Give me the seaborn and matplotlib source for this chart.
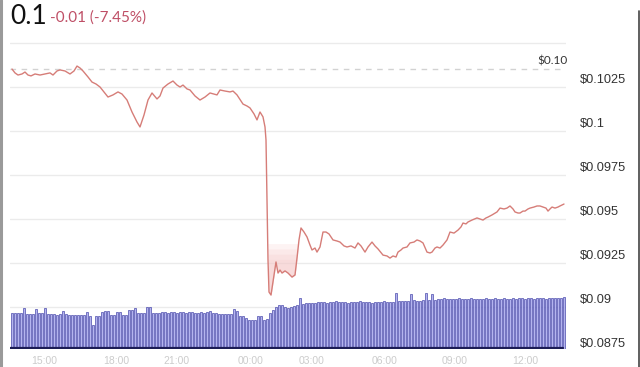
import numpy as np
import pandas as pd
import seaborn as sns
import matplotlib
matplotlib.use("Agg")
import matplotlib.pyplot as plt
from matplotlib import transforms
from matplotlib.lines import Line2D

# ---------------- data ----------------
price_t = [0,3,6,10,13,16,19,23,28,33,38,41,45,48,53,58,62,65,68,71,76,80,84,88,92,96,101,106,110,115,
           120,125,128,132,136,140,145,148,151,156,161,165,168,171,175,178,183,188,193,198,202,205,208,213,218,
           221,225,231,235,238,242,245,248,251,253,254,255,256,257,259,261,264,266,268,270,273,276,280,283,285,
           287,289,292,295,298,300,303,305,308,311,314,317,321,325,328,332,335,339,343,346,349,353,356,360,363,
           366,371,375,378,381,384,386,389,391,395,398,402,405,408,411,415,418,420,423,425,428,431,435,438,442,
           446,449,451,454,456,460,465,468,471,474,476,480,485,488,492,495,498,501,503,506,508,511,513,516,518,
           522,525,528,531,534,536,538,540,543,546,548,552]
price = [0.10352,0.10330,0.10318,0.10324,0.10335,0.10318,0.10313,0.10324,0.10318,0.10324,0.10330,0.10318,
         0.10341,0.10347,0.10341,0.10324,0.10341,0.10369,0.10358,0.10341,0.10307,0.10278,0.10267,0.10250,
         0.10222,0.10193,0.10205,0.10222,0.10210,0.10176,0.10108,0.10051,0.10023,0.10091,0.10176,0.10216,
         0.10182,0.10199,0.10244,0.10267,0.10284,0.10261,0.10250,0.10261,0.10239,0.10233,0.10199,0.10176,
         0.10193,0.10216,0.10210,0.10205,0.10233,0.10227,0.10222,0.10227,0.10205,0.10153,0.10142,0.10131,
         0.10097,0.10063,0.10108,0.10080,0.10023,0.09949,0.09608,0.09267,0.09085,0.09068,0.09142,0.09256,
         0.09193,0.09210,0.09193,0.09205,0.09193,0.09170,0.09182,0.09278,0.09381,0.09449,0.09426,0.09398,
         0.09352,0.09324,0.09335,0.09312,0.09341,0.09426,0.09426,0.09415,0.09381,0.09375,0.09369,0.09347,
         0.09341,0.09347,0.09335,0.09364,0.09347,0.09312,0.09341,0.09369,0.09347,0.09330,0.09295,0.09290,
         0.09278,0.09290,0.09284,0.09312,0.09324,0.09335,0.09341,0.09364,0.09369,0.09381,0.09375,0.09364,
         0.09312,0.09307,0.09312,0.09335,0.09341,0.09335,0.09352,0.09381,0.09426,0.09420,0.09437,0.09455,
         0.09477,0.09472,0.09483,0.09494,0.09506,0.09500,0.09494,0.09506,0.09511,0.09523,0.09540,0.09562,
         0.09557,0.09562,0.09574,0.09557,0.09540,0.09534,0.09534,0.09545,0.09545,0.09557,0.09562,0.09568,
         0.09574,0.09574,0.09568,0.09562,0.09545,0.09557,0.09568,0.09562,0.09568,0.09574,0.09585]

volume = [36,36,36,36,41,35,35,35,40,36, 36,41,35,35,35,34,35,38,35,34,
          34,34,34,34,34,37,33,24,33,33, 37,38,38,34,34,37,37,34,34,39,
          39,41,36,36,36,42,42,36,36,36, 37,37,36,37,37,36,37,37,36,37,
          37,36,36,37,36,37,38,36,36,35, 35,35,35,35,40,38,33,33,31,29,
          29,29,33,33,29,30,36,39,42,44, 44,42,41,42,43,44,51,45,46,46,
          46,46,47,47,47,46,47,47,48,47, 47,47,46,47,47,47,48,47,47,47,
          46,47,47,47,48,47,47,47,56,48, 48,48,48,55,49,48,48,49,56,49,
          55,49,50,50,51,50,50,50,50,51, 50,50,50,51,50,50,50,50,51,50,
          50,51,50,50,51,50,50,51,50,51, 51,50,51,51,50,51,51,51,50,51,
          51,51,51,51,52]
volume_t = list(np.arange(len(volume)) * 3)

open_price = 0.10352
y_ticks = [0.0875, 0.09, 0.0925, 0.095, 0.0975, 0.1, 0.1025]
y_tick_labels = ["$0.0875", "$0.09", "$0.0925", "$0.095", "$0.0975", "$0.1", "$0.1025"]
grid_levels = [0.09, 0.0925, 0.095, 0.0975, 0.1, 0.1025, 0.105]
x_labels = ["15:00", "18:00", "21:00", "00:00", "03:00", "06:00", "09:00", "12:00"]
x_label_t = [32, 104, 164, 239, 300, 373, 443, 513]
shade_levels = [0.0936, 0.0933, 0.0930, 0.0927]
title_price = "0.1"
title_change = "-0.01 (-7.45%)"
open_label = "$0.10"

# ---------------- figure ----------------
sns.set_theme(style="white")
plt.rcParams["font.family"] = ["Liberation Sans", "DejaVu Sans"]

W, H = 640, 367
fig = plt.figure(figsize=(W / 100, H / 100), dpi=100)
fig.patch.set_facecolor("white")

ax = fig.add_axes([10 / W, 1 - 349 / H, 556 / W, 309 / H])
ax.set_xlim(-2, 554)
ax.set_ylim(0.087614, 0.105170)
for s in ax.spines.values():
    s.set_visible(False)
ax.set_xticks([])
ax.set_yticks([])
ax.set_facecolor("none")

for g in grid_levels:
    ax.axhline(g, color="#ebebeb", lw=1.0, zorder=0)

ax.axhline(open_price, color="#d2d2d2", lw=1.0, ls=(0, (4, 4)), zorder=1)
pdf = pd.DataFrame({"t": price_t, "p": price})
seg = pdf[(pdf.t >= 254) & (pdf.t <= 288)]
for lvl in shade_levels:
    ax.fill_between(seg.t, seg.p, lvl, where=seg.p < lvl, color="#f6c9c9", alpha=0.22,
                    lw=0, zorder=1, interpolate=True)
sns.lineplot(data=pdf, x="t", y="p", ax=ax, color="#d67d78", linewidth=1.0, zorder=3)
ax.set_xlabel("")
ax.set_ylabel("")
ax.set_xlim(-2, 554)
ax.set_ylim(0.087614, 0.105170)

# volume on twin axis (drawn above the gridlines)
ax2 = ax.twinx()
vdf = pd.DataFrame({"t": volume_t, "vol": volume})
sns.barplot(data=vdf, x="t", y="vol", native_scale=True, ax=ax2, color="#b4b4ef",
            saturation=1, edgecolor="#3c3ca4", linewidth=0.45, width=0.62, zorder=1)
ax2.set_ylim(0, 309)
ax2.set_xlim(-2, 554)
ax2.axhline(0.6, color="#1c1c55", lw=1.6, xmin=0.0, xmax=0.995)
for s in ax2.spines.values():
    s.set_visible(False)
ax2.set_xticks([])
ax2.set_yticks([])
ax2.set_xlabel("")
ax2.set_ylabel("")

# right-hand price labels (sit just above their gridlines)
lab_tr = transforms.offset_copy(transforms.blended_transform_factory(ax.transAxes, ax.transData),
                                fig=fig, x=0, y=7, units="dots")
for v, lab in zip(y_ticks, y_tick_labels):
    ax.text((580 - 10) / 556, v, lab, transform=lab_tr, ha="left", va="center",
            fontsize=9.2, color="#333333", clip_on=False)

# open-price label
op_tr = transforms.offset_copy(transforms.blended_transform_factory(ax.transAxes, ax.transData),
                               fig=fig, x=0, y=8, units="dots")
ax.text((568 - 10) / 556, open_price, open_label, transform=op_tr, ha="right", va="center",
        fontsize=8.5, color="#333333", family=["Lato", "DejaVu Sans"], clip_on=False)

# faint time labels at bottom
for t, lab in zip(x_label_t, x_labels):
    ax.text(t, 1 - 360.5 / H, lab,
            transform=transforms.blended_transform_factory(ax.transData, fig.transFigure),
            ha="center", va="center", fontsize=7.5, color="#cccccc", clip_on=False)

# title
fig.text(10 / W, 1 - 17 / H, title_price, fontsize=19, color="#111111", va="center", ha="left",
         family=["Lato", "DejaVu Sans"])
fig.text(50 / W, 1 - 18 / H, title_change, fontsize=11, color="#bf4f66", va="center", ha="left",
         family=["Lato", "DejaVu Sans"])

# screenshot frame edges
fig.add_artist(Line2D([1 / W, 1 / W], [0, 1], transform=fig.transFigure, color="#9a9a9a", lw=2.2))
fig.add_artist(Line2D([638.5 / W, 638.5 / W], [0, 0.97], transform=fig.transFigure, color="#444444", lw=1.2))

fig.savefig("out.png", dpi=100, facecolor="white")
